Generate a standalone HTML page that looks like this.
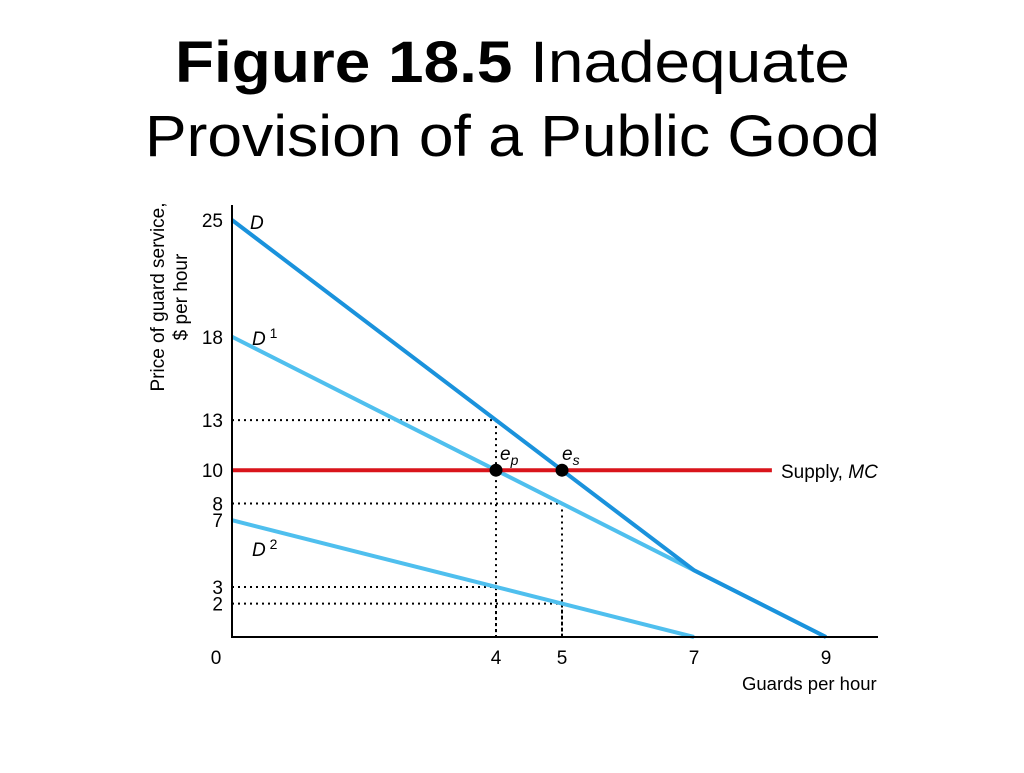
<!DOCTYPE html>
<html><head><meta charset="utf-8"><style>
body{margin:0;background:#fff;font-family:"Liberation Sans",Arial,sans-serif}
</style></head><body>
<svg width="1024" height="768" viewBox="0 0 1024 768" xmlns="http://www.w3.org/2000/svg" font-family="Liberation Sans, Arial, sans-serif">
<text x="175" y="82" font-size="58" textLength="675" lengthAdjust="spacingAndGlyphs"><tspan font-weight="bold">Figure 18.5</tspan>  Inadequate</text>
<text x="145" y="156" font-size="58" textLength="735" lengthAdjust="spacingAndGlyphs">Provision of a Public Good</text>
<g id="plot"></g>
</svg>
<script>
const yTicks=[0,2,3,7,8,10,13,18,25];
const xTicks=[0,4,5,7,9];
const dTotal=[[0,25],[7,4]];
const d1=[[0,18],[9,0]];
const d2=[[0,7],[7,0]];
const supplyPrice=10;
const supplyEnd=8.18;
const eqP=[4,10];
const eqS=[5,10];
const guides=[[4,13],[5,8],[4,3],[5,2]];
const NS='http://www.w3.org/2000/svg';
const X=q=>232+q*66, Y=p=>637-p*16.68;
const g=document.getElementById('plot');
function mk(t,a,txt){const e=document.createElementNS(NS,t);for(const k in a)e.setAttribute(k,a[k]);if(txt!=null)e.textContent=txt;g.appendChild(e);return e;}
guides.forEach(([q,p])=>{
 let e=mk('line',{x1:X(0),y1:Y(p),x2:X(q),y2:Y(p),stroke:'#000','stroke-width':2,'stroke-dasharray':'2,4'});
 
 
 e=mk('line',{x1:X(q),y1:Y(p),x2:X(q),y2:Y(0),stroke:'#000','stroke-width':2,'stroke-dasharray':'2,4'});
 
 
});
function line(pts,color,name){const e=mk('polyline',{points:pts.map(p=>X(p[0])+','+Y(p[1])).join(' '),fill:'none',stroke:color,'stroke-width':4});
 
 }
line(d2,'#4fbfee','demand-d2');
line(d1,'#4fbfee','demand-d1');
line(dTotal.concat([d1[1]]),'#1a92dc','demand-d');
let s=mk('line',{x1:X(0),y1:Y(supplyPrice),x2:X(supplyEnd),y2:Y(supplyPrice),stroke:'#d9141b','stroke-width':4});


[eqP,eqS].forEach(([q,p])=>{const c=mk('circle',{cx:X(q),cy:Y(p),r:6.5,fill:'#000'});
 
 });
let a=mk('line',{x1:232,y1:205,x2:232,y2:638,stroke:'#000','stroke-width':2});


a=mk('line',{x1:231,y1:637,x2:878,y2:637,stroke:'#000','stroke-width':2});


yTicks.filter(v=>v>0).forEach(v=>{const t=mk('text',{x:223,y:Y(v)+7,'text-anchor':'end','font-size':19},v);
 
 });
xTicks.forEach(v=>{const t=mk('text',{x:v===0?216:X(v),y:664,'text-anchor':'middle','font-size':19},v);
 
 });
function lab(x,y,html,name,size){const t=mk('text',{x:x,y:y,'font-size':size||19});t.innerHTML=html;
 
 }
lab(250,229,'<tspan font-style="italic">D</tspan>','label-d');
lab(252,345,'<tspan font-style="italic">D</tspan><tspan dy="-7" font-size="14"> 1</tspan>','label-d1');
lab(252,556,'<tspan font-style="italic">D</tspan><tspan dy="-7" font-size="14"> 2</tspan>','label-d2');
lab(500,460,'<tspan font-style="italic">e</tspan><tspan dy="5" font-size="14" font-style="italic">p</tspan>','label-ep');
lab(562,460,'<tspan font-style="italic">e</tspan><tspan dy="5" font-size="14" font-style="italic">s</tspan>','label-es');
lab(781,478,'Supply, <tspan font-style="italic">MC</tspan>','supply-label');
lab(742,690,'Guards per hour','x-axis-title',18.5);
let t=mk('text',{transform:'translate(164,297) rotate(-90)','text-anchor':'middle','font-size':19},'Price of guard service,');


t=mk('text',{transform:'translate(187,297) rotate(-90)','text-anchor':'middle','font-size':19},'$ per hour');


</script>
</body></html>
